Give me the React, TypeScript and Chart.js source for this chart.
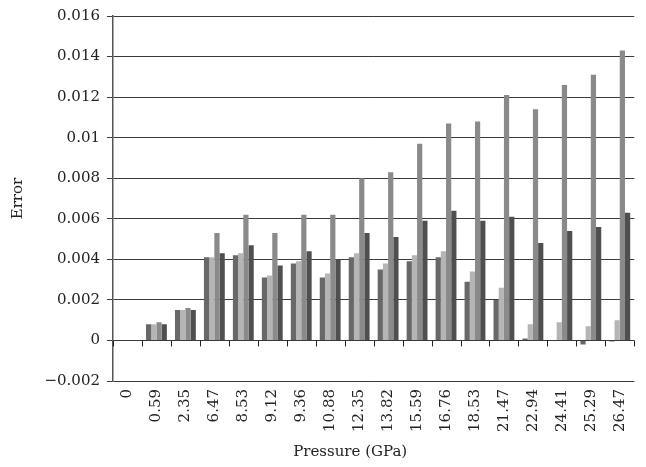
import React, { useEffect, useRef } from "react";
import { Chart, registerables } from "chart.js";

Chart.register(...registerables);

const categories = ["0", "0.59", "2.35", "6.47", "8.53", "9.12", "9.36", "10.88", "12.35", "13.82", "15.59", "16.76", "18.53", "21.47", "22.94", "24.41", "25.29", "26.47"];
const series1 = [0, 0.0008, 0.0015, 0.0041, 0.0042, 0.0031, 0.0038, 0.0031, 0.0041, 0.0035, 0.0039, 0.0041, 0.0029, 0.002, 0.0001, 0, -0.0002, -0.00005];
const series2 = [0, 0.0008, 0.0015, 0.0041, 0.0043, 0.0032, 0.0039, 0.0033, 0.0043, 0.0038, 0.0042, 0.0044, 0.0034, 0.0026, 0.0008, 0.0009, 0.0007, 0.001];
const series3 = [0, 0.0009, 0.0016, 0.0053, 0.0062, 0.0053, 0.0062, 0.0062, 0.008, 0.0083, 0.0097, 0.0107, 0.0108, 0.0121, 0.0114, 0.0126, 0.0131, 0.0143];
const series4 = [0, 0.0008, 0.0015, 0.0043, 0.0047, 0.0037, 0.0044, 0.004, 0.0053, 0.0051, 0.0059, 0.0064, 0.0059, 0.0061, 0.0048, 0.0054, 0.0056, 0.0063];
const seriesColors = ["#686868", "#b5b5b5", "#8a8a8a", "#4f4f4f"];
const yMin = -0.002;
const yMax = 0.016;
const yStep = 0.002;
const xTitle = "Pressure (GPa)";
const yTitle = "Error";

const FONT = "'DejaVu Serif', serif";

const zeroTicks = {
  id: "zeroTicks",
  afterDraw(chart: any) {
    const { ctx, scales } = chart;
    const x = scales.x;
    const y = scales.y;
    const y0 = y.getPixelForValue(0);
    const n = categories.length;
    ctx.save();
    ctx.strokeStyle = "#222";
    ctx.lineWidth = 1;
    ctx.beginPath();
    for (let i = 0; i <= n; i++) {
      const px = Math.round(x.left + (i * x.width) / n) + 0.5;
      ctx.moveTo(px, y0);
      ctx.lineTo(px, y0 + 6);
    }
    ctx.stroke();
    ctx.fillStyle = "#222";
    ctx.font = `15px ${FONT}`;
    ctx.textAlign = "center";
    ctx.textBaseline = "middle";
    ctx.fillText(xTitle, x.left + x.width * 0.455, 452);
    ctx.restore();
  },
};

export default function App() {
  const ref = useRef<HTMLCanvasElement>(null);
  useEffect(() => {
    document.body.style.margin = "0";
    const chart = new Chart(ref.current!, {
      type: "bar",
      data: {
        labels: categories,
        datasets: [series1, series2, series3, series4].map((d, i) => ({
          label: `S${i + 1}`,
          data: d,
          backgroundColor: seriesColors[i],
          borderWidth: 0,
          categoryPercentage: 0.72,
          barPercentage: 1.0,
        })),
      },
      options: {
        animation: false,
        responsive: false,
        layout: { padding: { top: 7, right: 8, bottom: 0, left: 0 } },
        plugins: { legend: { display: false }, tooltip: { enabled: false } },
        scales: {
          x: {
            grid: { display: false, drawTicks: false },
            border: { display: false },
            ticks: {
              autoSkip: false,
              minRotation: 90,
              maxRotation: 90,
              padding: 8,
              color: "#222",
              font: { family: FONT, size: 15 },
            },
            afterFit: (s: any) => {
              s.height = 86;
            },
          },
          y: {
            min: yMin,
            max: yMax,
            ticks: {
              stepSize: yStep,
              padding: 7,
              color: "#222",
              font: { family: FONT, size: 15 },
              callback: (v: any) => {
                const n = Number(Number(v).toFixed(3));
                return String(n).replace("-", "\u2212");
              },
            },
            grid: { color: "#3a3a3a", lineWidth: 1, tickLength: 6, drawTicks: true },
            border: { display: true, color: "#555", width: 1.5 },
            title: {
              display: true,
              text: yTitle,
              color: "#222",
              font: { family: FONT, size: 15 },
              padding: { top: 9, bottom: 0 },
            },
            afterFit: (s: any) => {
              s.width = 113;
            },
          },
        },
      },
      plugins: [zeroTicks],
    });
    return () => chart.destroy();
  }, []);
  return (
    <div style={{ width: 646, height: 467 }}>
      <canvas ref={ref} width={646} height={467} />
    </div>
  );
}
